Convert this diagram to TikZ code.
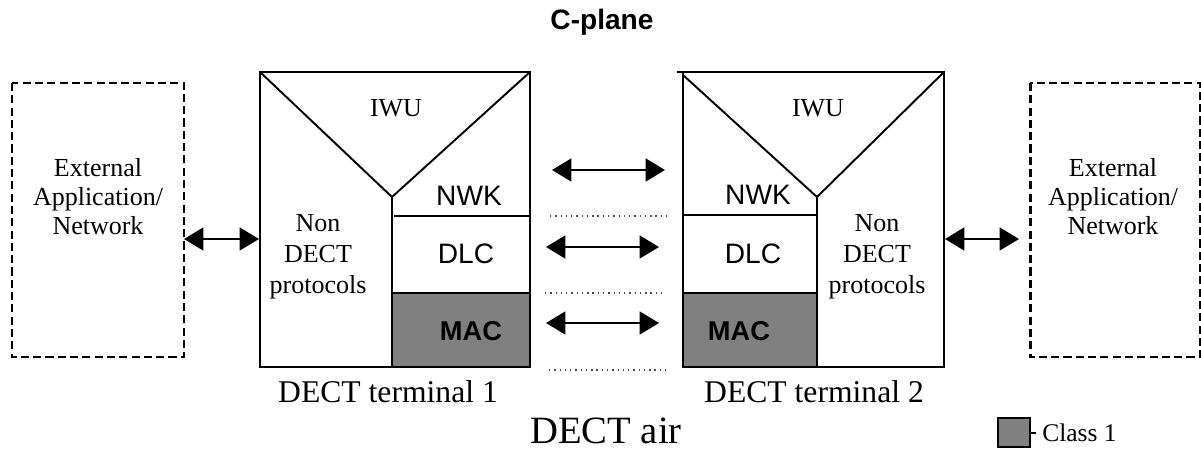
\documentclass[tikz,border=0pt]{standalone}
\usepackage{fontspec}
\setmainfont{Liberation Serif}
\setsansfont{Liberation Sans}
\usetikzlibrary{arrows.meta,positioning}

\definecolor{macgray}{HTML}{808080}

\tikzset{
  boxline/.style={line width=1.1pt},
  extline/.style={line width=1.7pt, dash pattern=on 4.6pt off 2.4pt},
  dotline/.style={line width=0.6pt, dash pattern=on 0.8pt off 2.2pt, black!70},
  dblarrow/.style={line width=1.2pt, {Triangle[length=11pt,width=13pt]}-{Triangle[length=11pt,width=13pt]}},
  serif/.style={font=\fontsize{14.8}{16.5}\selectfont, align=center},
  proto/.style={font=\fontsize{14.8}{17.6}\selectfont, align=center},
  layer/.style={font=\sffamily\fontsize{16}{18}\selectfont},
  maclabel/.style={font=\sffamily\bfseries\fontsize{15.5}{18}\selectfont},
  termlabel/.style={font=\fontsize{18}{20}\selectfont},
}

\begin{document}
\begin{tikzpicture}[x=0.02cm, y=-0.02cm]
    \useasboundingbox (0,0) rectangle (1201,450);

    %TITLE
    \node[font=\sffamily\bfseries\fontsize{16}{18}\selectfont] (title) at (602,22) {C-plane};

    %EXTERNAL
    \draw[extline] (12,83) rectangle (184,357);
    \node[serif] (ext1) at (98,197) {External\\Application/\\Network};
    \draw[extline] (1030,83) rectangle (1200,357);
    \node[serif] (ext2) at (1113,197) {External\\Application/\\Network};

    %TERMINAL 1
    \fill[macgray] (393,293) rectangle (530,367);
    \draw[boxline] (260,72) rectangle (530,367);
    \draw[boxline] (260,72) -- (392,197) -- (530,72);
    \draw[boxline] (392,197) -- (392,367);
    \draw[boxline] (394,216) -- (530,216);
    \draw[boxline] (392,293) -- (530,293);
    \node[serif] (iwu1) at (396,108) {IWU};
    \node[layer] (nwk1) at (469,196) {NWK};
    \node[layer] (dlc1) at (466,254) {DLC};
    \node[maclabel] (mac1) at (471,331) {MAC};
    \node[proto] (non1) at (318,257) {Non\\DECT\\protocols};
    \node[termlabel] (term1) at (388,392) {DECT terminal 1};

    %TERMINAL 2
    \fill[macgray] (683,293) rectangle (817,367);
    \draw[boxline] (683,72) rectangle (944,367);
    \draw[boxline] (677,72) -- (683,72);
    \draw[boxline] (683,75) -- (817,197) -- (944,72);
    \draw[boxline] (817,197) -- (817,367);
    \draw[boxline] (683,215) -- (817,215);
    \draw[boxline] (683,293) -- (817,293);
    \node[serif] (iwu2) at (818,108) {IWU};
    \node[layer] (nwk2) at (758,195) {NWK};
    \node[layer] (dlc2) at (753,254) {DLC};
    \node[maclabel] (mac2) at (739,331) {MAC};
    \node[proto] (non2) at (877,257) {Non\\DECT\\protocols};
    \node[termlabel] (term2) at (814,392) {DECT terminal 2};

    %AIR
    \node[font=\fontsize{22}{24}\selectfont, inner sep=0pt] (air) at (606,431) {DECT air};

    %ARROWS
    \coordinate (e1) at (184,239);
    \coordinate (t1w) at (259,239);
    \coordinate (t2e) at (945,239);
    \coordinate (e2) at (1019,239);
    \draw[dblarrow] (e1) -- (t1w);
    \draw[dblarrow] (t2e) -- (e2);
    \coordinate (nwkA) at (552,170);
    \coordinate (nwkB) at (665,170);
    \coordinate (dlcA) at (546,247);
    \coordinate (dlcB) at (659,247);
    \coordinate (macA) at (546,323);
    \coordinate (macB) at (659,323);
    \draw[dblarrow] (nwkA) -- (nwkB);
    \draw[dblarrow] (dlcA) -- (dlcB);
    \draw[dblarrow] (macA) -- (macB);

    %DOTS
    \draw[dotline] (550,216) -- (668,216);
    \draw[dotline] (545,293) -- (662,293);
    \draw[dotline] (549,370) -- (666,370);

    %LEGEND
    \draw[line width=0.8pt, fill=macgray] (998,418) rectangle (1030,447);
    \draw[line width=0.8pt] (1030,433) -- (1036,433);
    \node[anchor=west, font=\fontsize{14.5}{16}\selectfont, inner sep=0pt] (class) at (1042,433) {Class 1};
\end{tikzpicture}
\end{document}
